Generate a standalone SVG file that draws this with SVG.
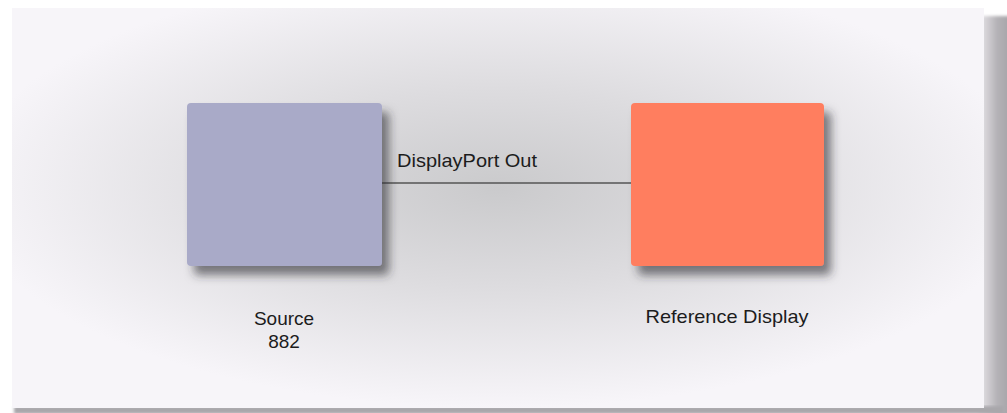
<svg xmlns="http://www.w3.org/2000/svg" width="1007" height="413" viewBox="0 0 1007 413">
  <defs>
    <radialGradient id="bg" cx="0.5" cy="0.45" r="0.55">
      <stop offset="0" stop-color="#cacacc"/>
      <stop offset="0.45" stop-color="#dddcdf"/>
      <stop offset="1" stop-color="#f7f5f9"/>
    </radialGradient>
    <linearGradient id="rshadow" x1="0" y1="0" x2="1" y2="0">
      <stop offset="0" stop-color="#eceaee"/>
      <stop offset="0.6" stop-color="#b4b2b6"/>
      <stop offset="1" stop-color="#a6a4a8"/>
    </linearGradient>
    <filter id="shadow" x="-20%" y="-20%" width="150%" height="150%">
      <feDropShadow dx="7" dy="9" stdDeviation="5" flood-color="#2a2a35" flood-opacity="0.6"/>
    </filter>
    <filter id="soft" x="-5%" y="-5%" width="110%" height="110%">
      <feGaussianBlur stdDeviation="1.5"/>
    </filter>
  </defs>
  <style>
    .lbl { font-family: "Liberation Sans", Arial, sans-serif; font-size: 19px; fill: #1c1c1c; }
    .conn { stroke: #555; stroke-width: 1.3; fill: none; }
  </style>
  <rect x="0" y="0" width="1007" height="413" fill="#ffffff"/>
  <g id="panel">
    <rect x="978" y="16" width="32" height="400" fill="url(#rshadow)" filter="url(#soft)"/>
    <rect x="14" y="406" width="990" height="8" fill="#a9a7ab" filter="url(#soft)"/>
    <rect x="12" y="8" width="972" height="400" fill="url(#bg)"/>
  </g>
  <g id="connectors">
    <line class="conn" x1="382" y1="183" x2="631" y2="183"/>
    <text class="lbl" x="397" y="167" textLength="140" lengthAdjust="spacingAndGlyphs">DisplayPort Out</text>
  </g>
  <g id="source">
    <rect x="187" y="103" width="195" height="163" rx="4" fill="#a9aac8" filter="url(#shadow)"/>
    <text class="lbl" x="284" y="325" text-anchor="middle">Source</text>
    <text class="lbl" x="284" y="348" text-anchor="middle">882</text>
  </g>
  <g id="reference-display">
    <rect x="631" y="103" width="193" height="163" rx="4" fill="#ff7e5e" filter="url(#shadow)"/>
    <text class="lbl" x="727" y="323" text-anchor="middle" textLength="163" lengthAdjust="spacingAndGlyphs">Reference Display</text>
  </g>
</svg>
